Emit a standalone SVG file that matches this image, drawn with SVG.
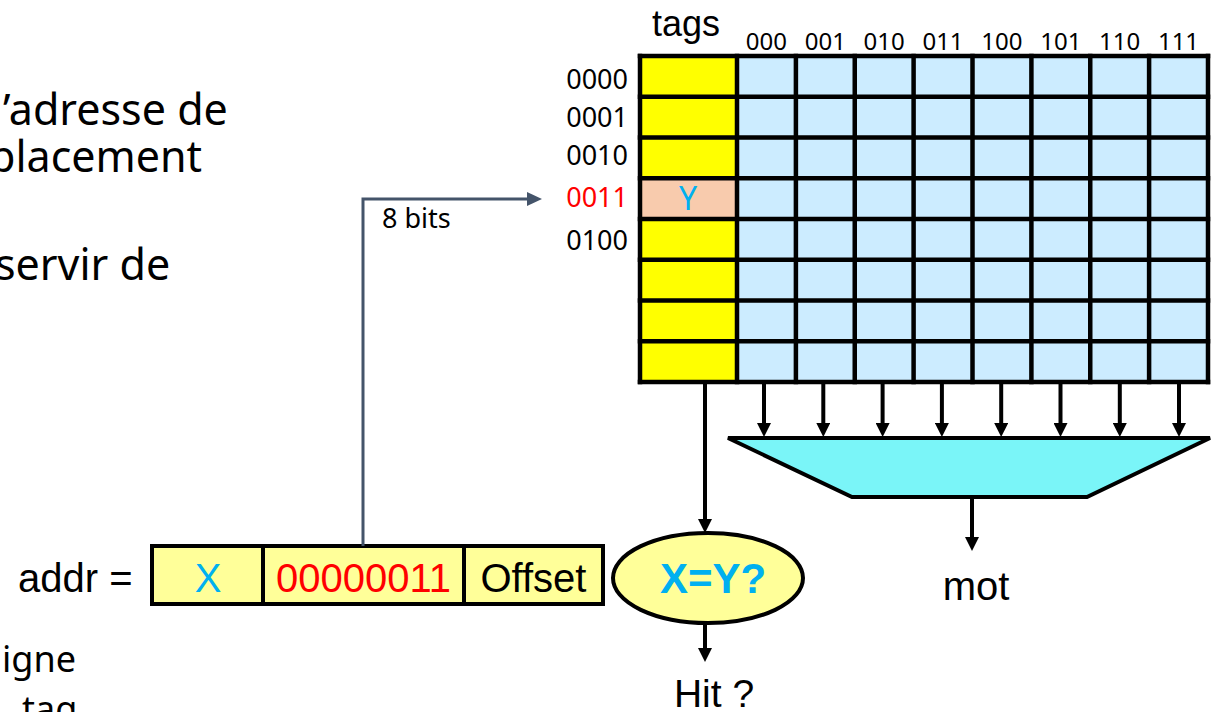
<svg xmlns="http://www.w3.org/2000/svg" width="1213" height="712" viewBox="0 0 1213 712">
  <defs>
    <style>
      .sans { font-family: "Liberation Sans", Arial, sans-serif; }
      .body { font-family: "Noto Sans", "Open Sans", sans-serif; }
      .grid { stroke: #000; stroke-width: 4.5; fill: none; stroke-linecap: square; }
      .wire { stroke: #000; stroke-width: 4; fill: none; }
      .bus { stroke: #44546A; stroke-width: 3; fill: none; }
      .outline { stroke: #000; stroke-width: 4; }
    </style>
    <marker id="head-black" markerUnits="userSpaceOnUse" viewBox="0 0 14 14" markerWidth="14" markerHeight="14" refX="5" refY="7" orient="auto">
      <path d="M0,0 L14,7 L0,14 z" fill="#000"/>
    </marker>
    <marker id="head-slate" markerUnits="userSpaceOnUse" viewBox="0 0 15 14" markerWidth="15" markerHeight="14" refX="5" refY="7" orient="auto">
      <path d="M0,0 L15,7 L0,14 z" fill="#44546A"/>
    </marker>
  </defs>

  <rect width="1213" height="712" fill="#fff"/>

  <!-- bullet text running off the left edge -->
  <g id="side-text" class="body" font-size="43" fill="#000">
    <text x="3" y="125">’adresse de</text>
    <text x="-11" y="172">placement</text>
    <text x="-5" y="280">servir de</text>
    <text x="2" y="672" font-size="36">igne</text>
    <text x="22" y="722" font-size="36">tag</text>
  </g>

  <!-- cache array: tag column + 8 words per line -->
  <g id="cache-array">
    <rect x="640" y="56" width="97" height="326" fill="#FFFF00"/>
    <rect x="640" y="178.25" width="97" height="40.75" fill="#F8CBAD"/>
    <rect x="737" y="56" width="471" height="326" fill="#CCECFF"/>
    <g class="grid">
      <path d="M640,56H1208M640,96.75H1208M640,137.5H1208M640,178.25H1208M640,219H1208M640,259.75H1208M640,300.5H1208M640,341.25H1208M640,382H1208"/>
      <path d="M640,56V382M737,56V382M795.9,56V382M854.75,56V382M913.6,56V382M972.5,56V382M1031.4,56V382M1090.25,56V382M1149.1,56V382M1208,56V382"/>
    </g>
    <text class="body" x="688" y="210" font-size="32" fill="#00B0F0" text-anchor="middle">Y</text>
  </g>

  <g id="column-labels" class="body" font-size="24" fill="#000" text-anchor="middle">
    <text class="sans" x="686" y="36" font-size="36">tags</text>
    <text x="766.4" y="50">000</text>
    <text x="825.3" y="50">001</text>
    <text x="884.2" y="50">010</text>
    <text x="943" y="50">011</text>
    <text x="1001.9" y="50">100</text>
    <text x="1060.8" y="50">101</text>
    <text x="1119.7" y="50">110</text>
    <text x="1178.5" y="50">111</text>
  </g>

  <g id="row-labels" class="body" font-size="27" fill="#000" text-anchor="end">
    <text x="628" y="89">0000</text>
    <text x="628" y="127">0001</text>
    <text x="628" y="165">0010</text>
    <text x="628" y="207" fill="#FF0000">0011</text>
    <text x="628" y="250">0100</text>
  </g>

  <!-- word selector -->
  <g id="mux">
    <polygon class="outline" points="728,438 1210,438 1087,497 852,497" fill="#7AF5F8" stroke-linejoin="miter"/>
    <text class="sans" x="976" y="600" font-size="40" fill="#000" text-anchor="middle">mot</text>
  </g>

  <!-- tag comparator -->
  <g id="comparator">
    <ellipse class="outline" cx="708" cy="578" rx="95" ry="45" fill="#FFFF99"/>
    <text class="sans" x="713" y="593" font-size="42" font-weight="bold" fill="#00B0F0" text-anchor="middle">X=Y?</text>
    <text class="sans" x="714" y="707" font-size="39" fill="#000" text-anchor="middle">Hit ?</text>
  </g>

  <!-- address split into fields -->
  <g id="address">
    <text class="sans" x="18" y="592" font-size="40" fill="#000">addr =</text>
    <rect class="outline" x="152" y="546" width="451" height="58" fill="#FFFF99"/>
    <path class="outline" d="M263,546V604M464,546V604" fill="none"/>
    <g class="sans" font-size="40" text-anchor="middle">
      <text x="208" y="592" fill="#00B0F0">X</text>
      <text x="363.5" y="592" fill="#FF0000">00000011</text>
      <text x="533.5" y="592" fill="#000">Offset</text>
    </g>
  </g>

  <g id="connectors">
    <path class="bus" d="M363,546V199H532" marker-end="url(#head-slate)"/>
    <text class="body" x="382" y="228" font-size="27" fill="#000">8 bits</text>
    <path class="wire" d="M705,384V524" marker-end="url(#head-black)"/>
    <path class="wire" d="M705,624V653" marker-end="url(#head-black)"/>
    <path class="wire" d="M972,497V542" marker-end="url(#head-black)"/>
    <g class="wire" marker-end="url(#head-black)">
      <path d="M764,384V428"/>
      <path d="M823.3,384V428"/>
      <path d="M882.6,384V428"/>
      <path d="M941.9,384V428"/>
      <path d="M1001.2,384V428"/>
      <path d="M1060.5,384V428"/>
      <path d="M1119.8,384V428"/>
      <path d="M1179,384V428"/>
    </g>
  </g>
</svg>
